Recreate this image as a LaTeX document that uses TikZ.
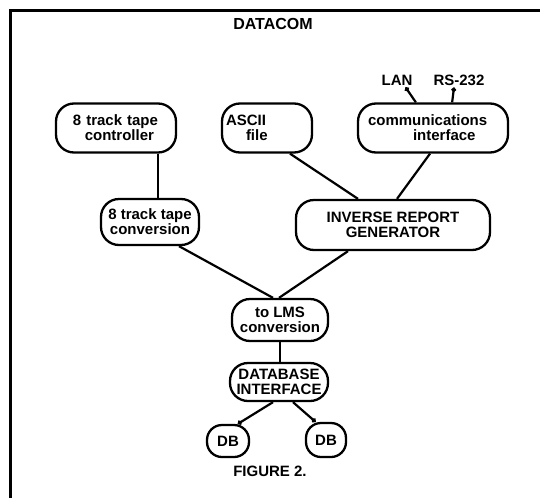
\documentclass[tikz,border=0pt]{standalone}
\usepackage{fontspec}
\setmainfont{Liberation Sans}
\usetikzlibrary{arrows.meta}
\begin{document}
\begin{tikzpicture}[x=1pt,y=-1pt,
  box/.style={draw, line width=2.3pt, rounded corners=18pt, inner sep=0pt,
    font=\fontsize{15}{15}\selectfont\bfseries},
  conn/.style={line width=2.2pt},
  lbl/.style={font=\fontsize{15}{15}\selectfont\bfseries, inner sep=0pt},
  dotend/.style={-{Circle[length=4.5pt]}}]
\useasboundingbox (0,0) rectangle (540,498);
% frame
\coordinate (ftr) at (540,10);
\coordinate (ftl) at (10,10);
\coordinate (fbl) at (10,498);
\draw[line width=3pt] (ftr) -- (ftl) -- (fbl);
\node[lbl, font=\fontsize{16}{16}\selectfont\bfseries] (title) at (273,24) {DATACOM};
% top row
\node[box, text width=120pt, minimum height=49pt, align=right] (ctrl) at (116,128)
  {8 track tape\kern18pt\\controller\kern22pt};
\node[box, text width=90pt, minimum height=49pt, align=left] (ascii) at (267,128)
  {\hspace*{4pt}ASCII\\\hspace*{24pt}file};
\node[box, text width=150pt, minimum height=49pt, align=left] (comm) at (433,128)
  {\hspace*{10pt}communications\\\hspace*{55pt}interface};
\node[lbl] (lan) at (397,80) {LAN};
\node[lbl] (rs) at (459,80) {RS-232};
% middle
\node[box, minimum width=98pt, minimum height=46pt, align=center] (conv) at (150,222)
  {8 track tape\\conversion};
\node[box, minimum width=194pt, minimum height=50pt, align=center] (irg) at (393,225)
  {INVERSE REPORT\\GENERATOR};
\node[box, minimum width=96pt, minimum height=42pt, align=center] (lms) at (280,320)
  {to LMS\\conversion};
\node[box, minimum width=98pt, minimum height=38pt, align=center] (dbi) at (279,382)
  {DATABASE\\INTERFACE};
\node[box, minimum width=42pt, minimum height=32pt, rounded corners=15pt] (db1) at (228,441) {DB};
\node[box, minimum width=40pt, minimum height=34pt, rounded corners=15pt] (db2) at (326,440) {DB};
\node[lbl] (fig) at (270,471) {FIGURE 2.};
% connectors
\draw[conn] ([xshift=42pt]ctrl.south) -- ([xshift=42pt]ctrl.south |- conv.north);
\draw[conn] ([xshift=23pt]ascii.south) -- ([xshift=-35pt]irg.north);
\draw[conn] ([xshift=-3pt]comm.south) -- ([xshift=4pt]irg.north);
\draw[conn] ([xshift=29pt]conv.south) -- ([xshift=-7pt]lms.north);
\draw[conn] ([xshift=-45pt]irg.south) -- ([xshift=-1pt]lms.north);
\draw[conn] (lms.south) -- (lms.south |- dbi.north);
\draw[conn, dotend] ([xshift=-6pt]dbi.south) -- (db1.60);
\draw[conn, dotend] ([xshift=14pt]dbi.south) -- (db2.120);
\draw[conn, dotend] ([xshift=59pt]comm.north west) -- ([xshift=-7pt,yshift=-2pt]lan.south east);
\draw[conn, dotend] ([xshift=-57pt]comm.north east) -- ([xshift=-5pt,yshift=-2pt]rs.south);
\end{tikzpicture}
\end{document}
